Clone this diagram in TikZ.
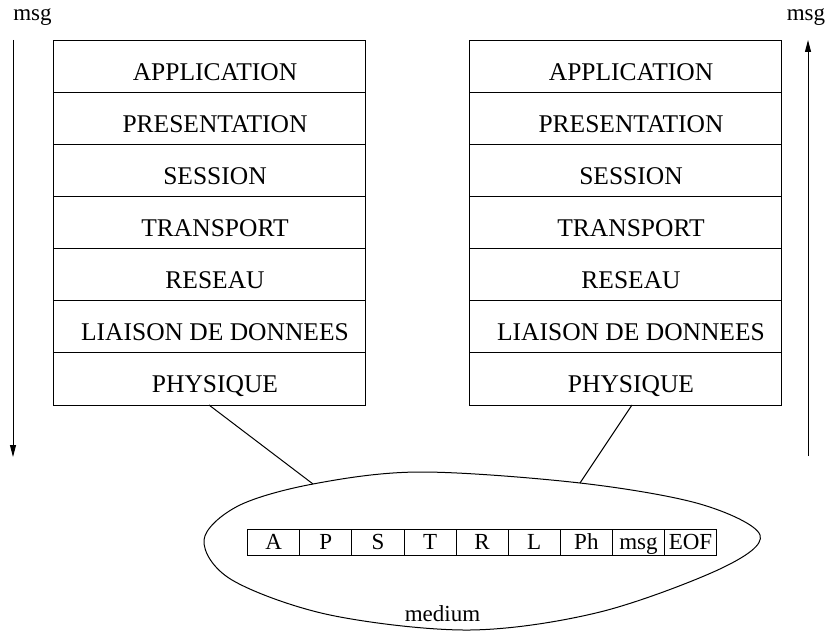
\documentclass[tikz,border=0pt]{standalone}
\usepackage{fontspec}
\setmainfont{Liberation Serif}
\usetikzlibrary{arrows.meta}
\begin{document}
\begin{tikzpicture}[x=0.5pt,y=-0.5pt,
  layer/.style={draw, line width=0.5pt, minimum width=156pt, minimum height=26pt,
    inner sep=0pt, outer sep=0pt, text height=14pt, text depth=0.5pt,
    font=\fontsize{12.75}{15}\selectfont, execute at begin node=\hspace*{6pt}},
  cell/.style={draw, line width=0.5pt, minimum width=26.05pt, minimum height=13pt,
    inner sep=0pt, outer sep=0pt, text height=8pt, text depth=0.5pt,
    font=\fontsize{11.5}{14}\selectfont},
  small/.style={inner sep=0pt, anchor=base, font=\fontsize{11.5}{14}\selectfont},
  wire/.style={line width=0.5pt},
  flow/.style={line width=0.5pt, -{Triangle[length=6pt,width=3pt]}}]
\useasboundingbox (0,0) rectangle (828,635);

% the two seven-layer stacks
\foreach \t [count=\i] in {APPLICATION, PRESENTATION, SESSION, TRANSPORT,
    RESEAU, LIAISON DE DONNEES, PHYSIQUE} {
  \node[layer] (Ll\i) at (209, 15+52*\i) {\t};
  \node[layer] (Lr\i) at (625, 15+52*\i) {\t};
}

% direction of the message on each side
\node[small] (msgL) at (32.5,21) {msg};
\node[small] (msgR) at (806,21) {msg};
\coordinate (dTopL) at (13,40);
\coordinate (dBotL) at (13,457);
\coordinate (dTopR) at (808,40);
\coordinate (dBotR) at (808,456);
\draw[flow] (dTopL) -- (dBotL);
\draw[flow] (dBotR) -- (dTopR);

% the medium
\draw[wire] plot[smooth cycle, tension=0.55] coordinates {
  (204,540) (238,506) (313,484) (420,472) (580,483) (700,504)
  (760,535) (722,568) (600,612) (470,630) (330,615) (232,580)};
\node[small] (medium) at (442.5,621.7) {medium};

% the frame carried on the medium
\foreach \t [count=\i] in {A, P, S, T, R, L, Ph, msg, EOF} {
  \node[cell] (c\i) at (221.65+52.1*\i, 542) {\t};
}

% links from the physical layers to the medium
\coordinate (mL) at (313,484);
\coordinate (mR) at (580,483);
\draw[wire] (Ll7.south) -- (mL);
\draw[wire] ([xshift=3.5pt]Lr7.south) -- (mR);
\end{tikzpicture}
\end{document}
